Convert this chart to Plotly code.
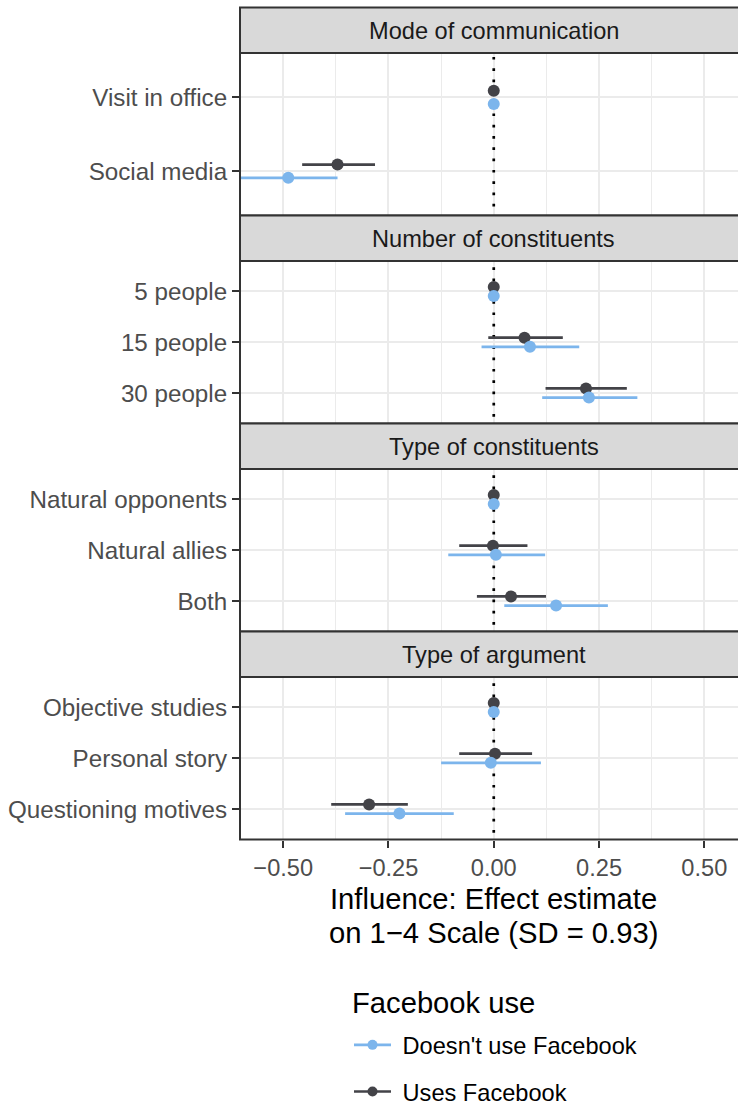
import plotly.graph_objects as go

# Facets and their terms (top to bottom within each facet)
facets = ["Mode of communication", "Number of constituents",
          "Type of constituents", "Type of argument"]
terms = [
    ["Visit in office", "Social media"],
    ["5 people", "15 people", "30 people"],
    ["Natural opponents", "Natural allies", "Both"],
    ["Objective studies", "Personal story", "Questioning motives"],
]

# Doesn't use Facebook: estimate and 95% interval
est_no_fb = [[0.0, -0.488], [0.0, 0.086, 0.226], [0.0, 0.005, 0.148], [0.0, -0.007, -0.224]]
lo_no_fb = [[0.0, -0.605], [0.0, -0.029, 0.115], [0.0, -0.108, 0.025], [0.0, -0.125, -0.353]]
hi_no_fb = [[0.0, -0.371], [0.0, 0.203, 0.341], [0.0, 0.122, 0.271], [0.0, 0.112, -0.095]]

# Uses Facebook: estimate and 95% interval
est_fb = [[0.0, -0.371], [0.0, 0.073, 0.219], [0.0, -0.002, 0.041], [0.0, 0.003, -0.296]]
lo_fb = [[0.0, -0.455], [0.0, -0.013, 0.123], [0.0, -0.082, -0.040], [0.0, -0.082, -0.386]]
hi_fb = [[0.0, -0.282], [0.0, 0.164, 0.316], [0.0, 0.080, 0.124], [0.0, 0.091, -0.204]]

x_ticks = [-0.5, -0.25, 0.0, 0.25, 0.5]
x_tick_labels = ["\u22120.50", "\u22120.25", "0.00", "0.25", "0.50"]
x_minor = [-0.375, -0.125, 0.125, 0.375]

groups = [
    ("Uses Facebook", "#434348", est_fb, lo_fb, hi_fb, -1),
    ("Doesn't use Facebook", "#7cb5ec", est_no_fb, lo_no_fb, hi_no_fb, 1),
]

W, H = 738, 1105
FONT = "Liberation Sans, Arial, sans-serif"
SMALL, BIG = 23.6, 29.2
DODGE = 0.09
TOP, STRIP, PANEL = 7.5, 45.5, 162.5
XR = [-0.6026, 0.58]


def py(px):
    return 1 - px / H


fig = go.Figure()
shapes, annotations = [], []
layout = {}

for i, (facet, labels) in enumerate(zip(facets, terms)):
    k = i + 1
    sfx = "" if k == 1 else str(k)
    s0 = TOP + i * (STRIP + PANEL)
    p0, p1 = s0 + STRIP, s0 + STRIP + PANEL
    n = len(labels)
    pos = list(range(1, n + 1))

    # dotted reference line at zero
    fig.add_trace(go.Scatter(
        x=[0, 0], y=[0.3, n + 0.7], mode="lines",
        line=dict(color="black", width=2.7, dash="2.7px,8.6px"),
        xaxis="x" + sfx, yaxis="y" + sfx, showlegend=False, hoverinfo="skip",
    ))

    for name, col, est, lo, hi, side in groups:
        e = est[i]
        fig.add_trace(go.Scatter(
            x=e, y=[p + side * DODGE for p in pos],
            mode="markers",
            marker=dict(size=12, color=col),
            error_x=dict(type="data", symmetric=False,
                         array=[h - v for h, v in zip(hi[i], e)],
                         arrayminus=[v - l for v, l in zip(e, lo[i])],
                         width=0, thickness=2.7, color=col),
            xaxis="x" + sfx, yaxis="y" + sfx, showlegend=False, hoverinfo="skip",
        ))

    bottom = k == len(facets)
    layout["xaxis" + sfx] = dict(
        domain=[0, 1], anchor="y" + sfx, range=XR,
        matches=None if k == 1 else "x",
        tickvals=x_ticks, ticktext=x_tick_labels,
        showticklabels=bottom, ticks="outside" if bottom else "",
        ticklen=7, tickwidth=2, tickcolor="#333333",
        tickfont=dict(size=SMALL, color="#4D4D4D", family=FONT),
        showgrid=True, gridcolor="#EBEBEB", gridwidth=2,
        minor=dict(tickvals=x_minor, showgrid=True, gridcolor="#EBEBEB", gridwidth=1.1),
        zeroline=False, showline=False,
    )
    layout["yaxis" + sfx] = dict(
        domain=[py(p1), py(p0)], anchor="x" + sfx,
        range=[n + 0.6, 0.4], tickvals=pos, ticktext=labels,
        ticks="outside", ticklen=7, tickwidth=2, tickcolor="#333333",
        tickfont=dict(size=24.2, color="#4D4D4D", family=FONT),
        showgrid=True, gridcolor="#EBEBEB", gridwidth=2,
        zeroline=False, showline=False,
    )

    # panel border
    shapes.append(dict(type="rect", xref="paper", yref="paper",
                       x0=0, x1=1.02, y0=py(p1), y1=py(p0), layer="above",
                       line=dict(color="#333333", width=2), fillcolor="rgba(0,0,0,0)"))
    # strip
    shapes.append(dict(type="rect", xref="paper", yref="paper",
                       x0=0, x1=1.02, y0=py(p0), y1=py(s0), layer="above",
                       line=dict(color="#333333", width=2), fillcolor="#D9D9D9"))
    annotations.append(dict(text=facet, xref="x" + sfx, yref="paper",
                            x=0, y=py(s0 + STRIP / 2 + 1), showarrow=False,
                            xanchor="center", yanchor="middle",
                            font=dict(size=SMALL, color="#1A1A1A", family=FONT)))

# x-axis title (two lines)
annotations.append(dict(text="Influence: Effect estimate", xref="x4", yref="paper",
                        x=0, y=py(899), showarrow=False, xanchor="center", yanchor="middle",
                        font=dict(size=BIG, color="black", family=FONT)))
annotations.append(dict(text="on 1\u22124 Scale (SD = 0.93)", xref="x4", yref="paper",
                        x=0, y=py(933), showarrow=False, xanchor="center", yanchor="middle",
                        font=dict(size=BIG, color="black", family=FONT)))

# legend title
annotations.append(dict(text="Facebook use", xref="paper", yref="paper",
                        x=(350 - 240) / 498, y=py(1003), showarrow=False,
                        xanchor="left", yanchor="middle",
                        font=dict(size=BIG, color="black", family=FONT)))

# legend entries
for rank, (name, col) in enumerate([("Doesn't use Facebook", "#7cb5ec"), ("Uses Facebook", "#434348")]):
    fig.add_trace(go.Scatter(
        x=[None], y=[None], mode="lines+markers", name="\u00a0" + name, legendgroup=name,
        legendrank=rank + 1,
        line=dict(color=col, width=2.7), marker=dict(size=10, color=col),
        xaxis="x4", yaxis="y4",
    ))

fig.update_layout(
    width=W, height=H,
    margin=dict(l=240, r=0, t=0, b=0, autoexpand=False),
    paper_bgcolor="white", plot_bgcolor="white",
    font=dict(family=FONT, size=SMALL, color="black"),
    shapes=shapes, annotations=annotations,
    showlegend=True,
    legend=dict(
        x=(349 - 240) / 498, y=py(1023), xanchor="left", yanchor="top",
        orientation="v", bgcolor="rgba(0,0,0,0)",
        font=dict(size=SMALL, family=FONT, color="black"),
        tracegroupgap=13, itemwidth=37,
    ),
    **layout,
)

fig.write_html("out.html")
